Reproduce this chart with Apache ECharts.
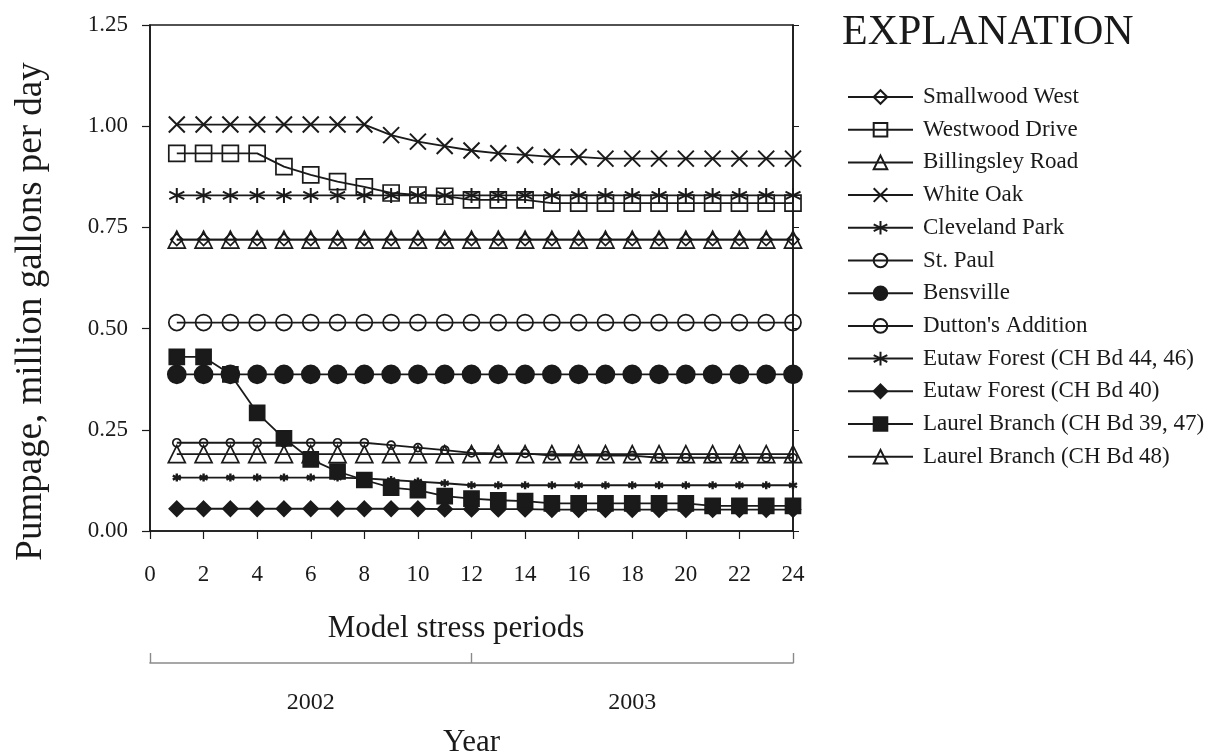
<!DOCTYPE html>
<html>
<head>
<meta charset="utf-8">
<title>Pumpage by well field</title>
<script src="https://cdn.jsdelivr.net/npm/echarts/dist/echarts.min.js"></script>
<style>
  html, body { margin: 0; padding: 0; background: #fff; }
  #chart { width: 1218px; height: 751px; }
</style>
</head>
<body>
<div id="chart"></div>
<script>
// stress periods 1..24 (monthly, 2002-2003)
const periods = [1, 2, 3, 4, 5, 6, 7, 8, 9, 10, 11, 12, 13, 14, 15, 16, 17, 18, 19, 20, 21, 22, 23, 24];
const years = ['2002', '2003'];
const yTicks = [0, 0.25, 0.5, 0.75, 1.0, 1.25];

// pumpage, million gallons per day
const smallwoodWest = [0.72, 0.72, 0.72, 0.72, 0.72, 0.72, 0.72, 0.72, 0.72, 0.72, 0.72, 0.72, 0.72, 0.72, 0.72, 0.72, 0.72, 0.72, 0.72, 0.72, 0.72, 0.72, 0.72, 0.72];
const westwoodDrive = [0.933, 0.933, 0.933, 0.933, 0.90, 0.88, 0.863, 0.85, 0.835, 0.83, 0.827, 0.818, 0.818, 0.818, 0.81, 0.81, 0.81, 0.81, 0.81, 0.81, 0.81, 0.81, 0.81, 0.81];
const billingsleyRoad = [0.72, 0.72, 0.72, 0.72, 0.72, 0.72, 0.72, 0.72, 0.72, 0.72, 0.72, 0.72, 0.72, 0.72, 0.72, 0.72, 0.72, 0.72, 0.72, 0.72, 0.72, 0.72, 0.72, 0.72];
const whiteOak = [1.004, 1.004, 1.004, 1.004, 1.004, 1.004, 1.004, 1.004, 0.978, 0.962, 0.951, 0.94, 0.933, 0.929, 0.924, 0.924, 0.92, 0.92, 0.92, 0.92, 0.92, 0.92, 0.92, 0.92];
const clevelandPark = [0.829, 0.829, 0.829, 0.829, 0.829, 0.829, 0.829, 0.829, 0.829, 0.829, 0.829, 0.829, 0.829, 0.829, 0.829, 0.829, 0.829, 0.829, 0.829, 0.829, 0.829, 0.829, 0.829, 0.829];
const stPaul = [0.515, 0.515, 0.515, 0.515, 0.515, 0.515, 0.515, 0.515, 0.515, 0.515, 0.515, 0.515, 0.515, 0.515, 0.515, 0.515, 0.515, 0.515, 0.515, 0.515, 0.515, 0.515, 0.515, 0.515];
const bensville = [0.387, 0.387, 0.387, 0.387, 0.387, 0.387, 0.387, 0.387, 0.387, 0.387, 0.387, 0.387, 0.387, 0.387, 0.387, 0.387, 0.387, 0.387, 0.387, 0.387, 0.387, 0.387, 0.387, 0.387];
const duttonsAddition = [0.218, 0.218, 0.218, 0.218, 0.218, 0.218, 0.218, 0.218, 0.212, 0.206, 0.2, 0.193, 0.192, 0.192, 0.186, 0.186, 0.186, 0.186, 0.181, 0.181, 0.181, 0.181, 0.181, 0.181];
const eutawForest4446 = [0.132, 0.132, 0.132, 0.132, 0.132, 0.132, 0.132, 0.13, 0.126, 0.122, 0.118, 0.113, 0.113, 0.113, 0.113, 0.113, 0.113, 0.113, 0.113, 0.113, 0.113, 0.113, 0.113, 0.113];
const eutawForest40 = [0.055, 0.055, 0.055, 0.055, 0.055, 0.055, 0.055, 0.055, 0.055, 0.055, 0.054, 0.054, 0.054, 0.054, 0.053, 0.053, 0.053, 0.053, 0.053, 0.053, 0.053, 0.053, 0.053, 0.053];
const laurelBranch3947 = [0.43, 0.43, 0.387, 0.292, 0.229, 0.177, 0.147, 0.126, 0.107, 0.101, 0.086, 0.08, 0.076, 0.074, 0.068, 0.068, 0.068, 0.068, 0.068, 0.068, 0.062, 0.062, 0.062, 0.062];
const laurelBranch48 = [0.19, 0.19, 0.19, 0.19, 0.19, 0.19, 0.19, 0.19, 0.19, 0.19, 0.19, 0.19, 0.19, 0.19, 0.19, 0.19, 0.19, 0.19, 0.19, 0.19, 0.19, 0.19, 0.19, 0.19];

const INK = '#1a1a1a';
const SERIF = '"Liberation Serif", "DejaVu Serif", serif';

const crossPath = 'path://M0,0L10,10M10,0L0,10';
const starPath = 'path://M5,0L5,10M0.7,2.5L9.3,7.5M9.3,2.5L0.7,7.5';

function pairs(vals) {
  return periods.map((p, i) => [p, vals[i]]);
}

// hollow = transparent fill, black outline (line shows through like the original)
function line(name, vals, symbol, size, filled, border) {
  return {
    name: name,
    type: 'line',
    data: pairs(vals),
    symbol: symbol,
    symbolSize: size,
    showAllSymbol: true,
    lineStyle: { color: INK, width: 1.8 },
    itemStyle: {
      color: filled ? INK : 'rgba(0,0,0,0)',
      borderColor: INK,
      borderWidth: border || 1.7
    },
    emphasis: { disabled: true },
    z: 2
  };
}

const series = [
  line('Smallwood West', smallwoodWest, 'diamond', 12, false),
  line('Westwood Drive', westwoodDrive, 'rect', 16, false),
  line('Billingsley Road', billingsleyRoad, 'triangle', 17, false),
  line('White Oak', whiteOak, crossPath, 16, false, 2),
  line('Cleveland Park', clevelandPark, starPath, 15, false, 2),
  line('St. Paul', stPaul, 'circle', 16, false),
  line('Bensville', bensville, 'circle', 18, true),
  line("Dutton's Addition", duttonsAddition, 'circle', 8, false),
  line('Eutaw Forest (CH Bd 44, 46)', eutawForest4446, starPath, 8, false, 2.4),
  line('Eutaw Forest (CH Bd 40)', eutawForest40, 'diamond', 15, true),
  line('Laurel Branch (CH Bd 39, 47)', laurelBranch3947, 'rect', 15, true),
  line('Laurel Branch (CH Bd 48)', laurelBranch48, 'triangle', 17, false)
];

const chart = echarts.init(document.getElementById('chart'), null, { renderer: 'canvas' });

chart.setOption({
  animation: false,
  backgroundColor: '#fff',
  textStyle: { fontFamily: SERIF, color: INK },
  title: {
    text: 'EXPLANATION',
    left: 842,
    top: 12,
    padding: 0,
    textStyle: { fontFamily: SERIF, fontSize: 42, fontWeight: 'normal', color: INK }
  },
  legend: {
    orient: 'vertical',
    left: 847,
    top: 85.5,
    padding: 0,
    itemWidth: 65,
    itemHeight: 17,
    itemGap: 9.7,
    selectedMode: false,
    textStyle: { fontFamily: SERIF, fontSize: 23, color: INK, padding: [0, 0, 0, 5] },
    data: series.map(s => s.name)
  },
  grid: {
    left: 150,
    right: 425,
    top: 25,
    bottom: 220,
    outerBoundsMode: 'none',
    show: true,
    borderColor: INK,
    borderWidth: 1.6
  },
  xAxis: [
    {
      type: 'value',
      min: 0,
      max: 24,
      interval: 2,
      name: 'Model stress periods',
      nameLocation: 'middle',
      nameGap: 82,
      nameTextStyle: { fontFamily: SERIF, fontSize: 31, color: INK, padding: [0, 31, 0, 0] },
      axisLine: { onZero: false, lineStyle: { color: INK, width: 1.6 } },
      axisTick: { length: 8, lineStyle: { color: INK, width: 1.2 } },
      axisLabel: { margin: 32, fontFamily: SERIF, fontSize: 23, color: INK },
      splitLine: { show: false }
    },
    {
      // year bracket under the period axis
      type: 'category',
      data: years,
      position: 'bottom',
      offset: 132,
      name: 'Year',
      nameLocation: 'middle',
      nameGap: 64,
      nameTextStyle: { fontFamily: SERIF, fontSize: 31, color: INK },
      axisLine: { show: true, onZero: false, lineStyle: { color: '#8a8a8a', width: 1.6 } },
      axisTick: { show: true, inside: true, length: 10, lineStyle: { color: '#8a8a8a', width: 1.4 } },
      axisLabel: { margin: 28, fontFamily: SERIF, fontSize: 24, color: INK },
      splitLine: { show: false }
    }
  ],
  yAxis: [
    {
      type: 'value',
      min: yTicks[0],
      max: yTicks[yTicks.length - 1],
      interval: 0.25,
      name: 'Pumpage, million gallons per day',
      nameLocation: 'middle',
      nameGap: 100,
      nameTextStyle: { fontFamily: SERIF, fontSize: 37, color: INK, padding: [0, 67, 0, 0] },
      axisLine: { show: true, onZero: false, lineStyle: { color: INK, width: 1.6 } },
      axisTick: { show: true, length: 8, lineStyle: { color: INK, width: 1.2 } },
      axisLabel: { margin: 22, fontFamily: SERIF, fontSize: 23, color: INK, formatter: v => v.toFixed(2) },
      splitLine: { show: false }
    },
    {
      type: 'value',
      position: 'right',
      min: yTicks[0],
      max: yTicks[yTicks.length - 1],
      interval: 0.25,
      axisLine: { show: true, onZero: false, lineStyle: { color: INK, width: 1.6 } },
      axisTick: { show: true, length: 6, lineStyle: { color: INK, width: 1 } },
      axisLabel: { show: false },
      splitLine: { show: false }
    }
  ],
  series: series
});
</script>
</body>
</html>
